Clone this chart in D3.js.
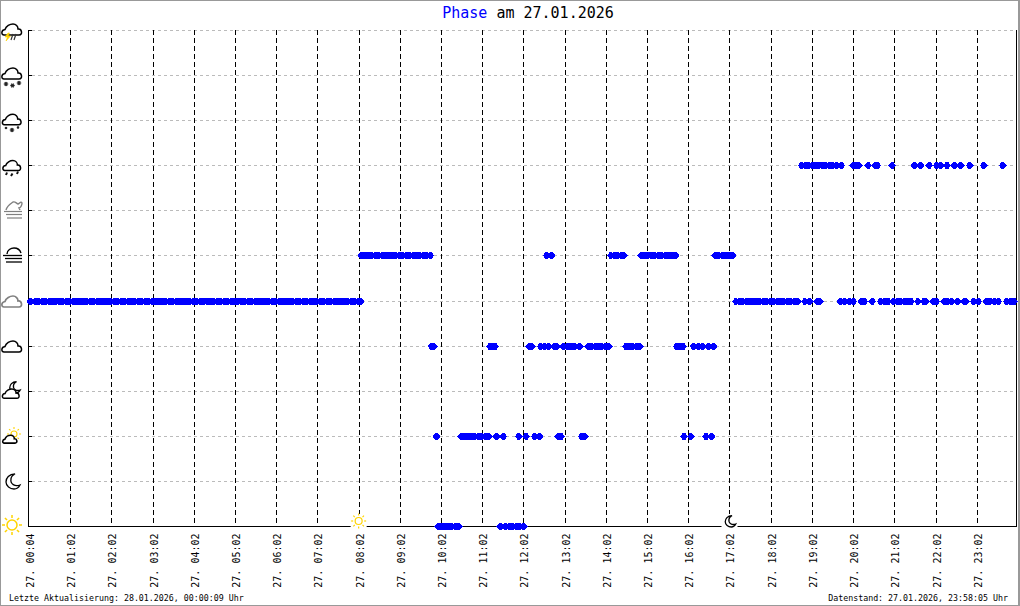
<!DOCTYPE html>
<html>
<head>
<meta charset="utf-8">
<script src="https://cdn.jsdelivr.net/npm/d3@7"></script>
<style>
html, body { margin: 0; padding: 0; background: #fff; }
svg { display: block; }
text { font-family: "DejaVu Sans Mono", monospace; fill: #000; }
</style>
</head>
<body>
<div id="graf"></div>
<script>
// Messwerte: Index = Nummer der 5-Minuten-Messung des Tages
const stundenIndex = [0,12,24,36,48,60,72,84,96,108,120,132,144,156,168,180,192,204,216,228,240,252,264,276]
const stundenLabels = ["27. 00:04","27. 01:02","27. 02:02","27. 03:02","27. 04:02","27. 05:02","27. 06:02","27. 07:02","27. 08:02","27. 09:02","27. 10:02","27. 11:02","27. 12:02","27. 13:02","27. 14:02","27. 15:02","27. 16:02","27. 17:02","27. 18:02","27. 19:02","27. 20:02","27. 21:02","27. 22:02","27. 23:02"]

const phaseSonne = [119.3,120.3,121.3,122.3,123.3,124.3,125.3,137.4,139,140,141,142,143,144.2]
const phaseSonneWolke = [118.8,126,127,128,129,130,131,132,133,134,136.3,138.3,142.8,144.9,147.4,148.8,154.3,155.1,161.1,162,190.9,192.9,197.3,198.9]
const phaseWolke = [117.4,118,134.4,135,135.9,145.8,146.6,149.2,150.3,151.5,153.1,153.8,155.8,157,158,159,160.5,163,164,165,166,167,168,169,174,175,176,177,178,188.8,189.7,190.6,193.7,195,196.3,198,199.5]
const phaseBedeckt = [0.6,2,3,4,5,6,7,8,9,10,11,12,13,14,15,16,17,18,19,20,21,22,23,24,25,26,27,28,29,30,31,32,33,34,35,36,37,38,39,40,41,42,43,44,45,46,47,48,49,50,51,52,53,54,55,56,57,58,59,60,61,62,63,64,65,66,67,68,69,70,71,72,73,74,75,76,77,78,79,80,81,82,83,84,85,86,87,88,89,90,91,92,93,94,95,96,96.7,206,207,208,209,210,211,212,213,214,215,216,217,218,219,220,221,222,223,224,226.1,227.5,229.8,230.4,236.5,237.7,239,240.2,242.6,243.4,245.7,248.2,249.2,250.3,252,253,254,255,256,257,259,260.8,261.2,263.5,264.4,266.7,267.7,268.8,270.6,272.5,273,275.3,276.6,279,280,281.2,282.4,284.9,286,287]
const phaseNebel = [97,98,99,100,101,102,103,104,105,106,107,108,109,110,111,112,113,114,115,116,117,150.9,152.3,169.6,170.6,171.6,172.6,173.4,178.4,179.4,180.4,181.4,182.4,183.4,184.4,185.4,186.4,187.4,188.4,200,201,202,203,204,205]
const phaseRegen = [225.2,226.2,227.2,228.2,229.2,230.2,231.2,232.2,233.2,234.2,235.4,236.7,240.2,241,241.8,244.5,246.7,247.2,251.5,258,259.8,262.3,264.5,265.6,267.5,269.7,271.5,274.1,278.2,283.7]

// Reihe auf der y-Achse: 0 = Sonne ... 11 = Gewitter
const phasen = [
    { stufe: 0, werte: phaseSonne },
    { stufe: 2, werte: phaseSonneWolke },
    { stufe: 4, werte: phaseWolke },
    { stufe: 5, werte: phaseBedeckt },
    { stufe: 6, werte: phaseNebel },
    { stufe: 8, werte: phaseRegen },
]
const stufen = [0,1,2,3,4,5,6,7,8,9,10,11]
const sonnenaufgang = 96
const sonnenuntergang = 204

const anchoTotal = 1020
const altoTotal = 606
const blau = "#0000ff"
const gelb = "#ffd400"
const grau = "#808080"

const svg = d3.select("#graf").append("svg")
    .attr("width", anchoTotal)
    .attr("height", altoTotal)

// Rahmen
svg.append("rect")
    .attr("x", 0.5).attr("y", 0.5)
    .attr("width", 1018).attr("height", 605)
    .attr("fill", "#fff").attr("stroke", "#999")
svg.append("line").attr("x1", 1019.5).attr("x2", 1019.5).attr("y1", 0).attr("y2", 606).attr("stroke", "#999")

// Escaladores
const x = d3.scaleLinear().domain([0, 287]).range([29, 1014.5])
const y = d3.scaleLinear().domain([0, 11]).range([526.5, 30.5])
const xPix = d => Math.round(x(d)) + 0.5
const yPix = d => Math.floor(y(d)) + 0.5

// horizontale Linien
svg.append("g").selectAll("line").data(stufen.slice(1)).join("line")
    .attr("x1", 32).attr("x2", 1016)
    .attr("y1", yPix).attr("y2", yPix)
    .attr("stroke", "#bbb").attr("stroke-dasharray", "3,3")

// Beschriftung
const xAxis = d3.axisBottom(x)
    .tickValues(stundenIndex)
    .tickSize(0)
    .tickPadding(0)
    .tickFormat((d, i) => stundenLabels[i])
const xGroup = svg.append("g").attr("transform", `translate(0,526.5)`).call(xAxis)
xGroup.select(".domain").remove()
xGroup.selectAll("text")
    .attr("transform", "translate(1,7) rotate(-90)")
    .attr("x", 0).attr("y", 0).attr("dy", "0.35em")
    .attr("text-anchor", "end")
    .style("font-size", "10px")
    .style("font-family", '"DejaVu Sans Mono", monospace')

// vertikale Linien
svg.append("g").selectAll("line").data(stundenIndex.slice(1)).join("line")
    .attr("x1", xPix).attr("x2", xPix)
    .attr("y1", 30).attr("y2", 526)
    .attr("stroke", "#000").attr("stroke-dasharray", "5,3")

// Achsen
svg.append("g").selectAll("line").data(stufen.slice(1)).join("line")
    .attr("x1", 28).attr("x2", 32)
    .attr("y1", yPix).attr("y2", yPix)
    .attr("stroke", "#000")
svg.append("line").attr("x1", 28.5).attr("x2", 28.5).attr("y1", 30).attr("y2", 527).attr("stroke", "#000")
svg.append("line").attr("x1", 28).attr("x2", 1016).attr("y1", 526.5).attr("y2", 526.5).attr("stroke", "#000")
svg.append("line").attr("x1", 1016.5).attr("x2", 1016.5).attr("y1", 30).attr("y2", 527).attr("stroke", "#000")

// Rauten (stumpfe Spitzen oben und unten)
const rauteForm = {
    draw(ctx) {
        ctx.moveTo(-3.9, 0)
        ctx.lineTo(-1, -3.7)
        ctx.lineTo(1, -3.7)
        ctx.lineTo(3.9, 0)
        ctx.lineTo(1, 3.7)
        ctx.lineTo(-1, 3.7)
        ctx.closePath()
    }
}
const raute = d3.symbol().type(rauteForm)
phasen.forEach(p => {
    svg.append("g").selectAll("path").data(p.werte).join("path")
        .attr("d", raute)
        .attr("transform", d => `translate(${x(d) - 0.5},${yPix(p.stufe)})`)
        .attr("fill", blau)
        .attr("shape-rendering", "crispEdges")
})

// Wetter-Symbole
const wolkeD = "M-8,5 C-11,5 -11,0 -7,-0.5 C-6,-4 -2,-6 1,-6 C4,-6 6,-3.5 6,-1 C10,-1.5 11,5 7,5 Z"

const wolke = (g, dx, dy, s, farbe, sw = 1.5) => {
    g.append("path").attr("d", wolkeD)
        .attr("transform", `translate(${dx},${dy}) scale(${s})`)
        .attr("fill", "#fff").attr("stroke", farbe).attr("stroke-width", sw / s)
}
const sonne = (g, cx, cy, r, len, farbe, sw) => {
    g.append("circle").attr("cx", cx).attr("cy", cy).attr("r", r)
        .attr("fill", "#fff").attr("stroke", farbe).attr("stroke-width", sw)
    d3.range(8).forEach(k => {
        const a = k * Math.PI / 4
        g.append("line")
            .attr("x1", cx + Math.cos(a) * (r + 2)).attr("y1", cy + Math.sin(a) * (r + 2))
            .attr("x2", cx + Math.cos(a) * (r + 2 + len)).attr("y2", cy + Math.sin(a) * (r + 2 + len))
            .attr("stroke", farbe).attr("stroke-width", sw)
    })
}
const mondD = "M2,-7 C-4,-7 -7,-3 -7,1 C-7,5 -3,8 1,8 C4,8 6,6 7,4 C2,6 -3,3 -2,-2 C-2,-4 0,-6 2,-7 Z"
const mond = (g, cx, cy, s, farbe) => {
    g.append("path").attr("d", mondD)
        .attr("transform", `translate(${cx},${cy}) scale(${s})`)
        .attr("fill", "#fff").attr("stroke", farbe).attr("stroke-width", 1.3 / s)
}
const flocke = (g, cx, cy, r) => {
    [0, 60, 120].forEach(w => {
        g.append("line")
            .attr("x1", cx - r).attr("x2", cx + r).attr("y1", cy).attr("y2", cy)
            .attr("transform", `rotate(${w},${cx},${cy})`)
            .attr("stroke", "#222").attr("stroke-width", 1.3)
    })
}
const balken = (g, dy, x1, x2, farbe, sw) => {
    g.append("line").attr("x1", x1).attr("x2", x2).attr("y1", dy).attr("y2", dy)
        .attr("stroke", farbe).attr("stroke-width", sw)
}

const icons = svg.append("g")

// Gewitter
const i11 = icons.append("g")
wolke(i11, 12, 30, 1, "#000")
i11.append("path").attr("d", "M8,33 L5,37 L7.5,37 L6,41 L10.5,36 L8,36 L9.5,33 Z").attr("fill", gelb).attr("stroke", gelb).attr("stroke-width", 0.6)
i11.append("path").attr("d", "M13,34 L11,40 M16,34 L14,40").attr("stroke", "#333").attr("stroke-width", 1.2)

// starker Schnee
const i10 = icons.append("g")
wolke(i10, 12, 74, 1, "#000")
flocke(i10, 6, 84, 2.2); flocke(i10, 12.5, 85.5, 2.2); flocke(i10, 19, 83, 2.2)

// Schnee
const i9 = icons.append("g")
wolke(i9, 12, 120, 0.95, "#000")
flocke(i9, 6, 128, 1.2); flocke(i9, 12, 130, 2.2); flocke(i9, 18, 127.5, 1.2)

// Regen
const i8 = icons.append("g")
wolke(i8, 12, 166, 0.9, "#000")
i8.append("path").attr("d", "M7,172.5 L6,175 M12.5,173.5 L11,176 M18,171.5 L17,174")
    .attr("stroke", "#111").attr("stroke-width", 2)

// Dunst
const i7 = icons.append("g")
i7.append("path").attr("d", "M6,210 C7,206 10,204 13,202 C15,201 17,204 18,204 C20,203 21,201 22,203 C22,206 20,208 19,208 L20,210")
    .attr("fill", "none").attr("stroke", grau).attr("stroke-width", 1.4)
balken(i7, 211.5, 4, 22, grau, 1.2); balken(i7, 214.5, 6, 22, grau, 1.2); balken(i7, 218, 7, 22, grau, 1.2)

// Nebel
const i6 = icons.append("g")
i6.append("path").attr("d", "M7,254 C7,250 11,248 14,248 C17,248 20,250 21,253")
    .attr("fill", "none").attr("stroke", "#000").attr("stroke-width", 1.4)
balken(i6, 255.5, 3, 22, "#000", 1.3); balken(i6, 258.5, 5, 22, "#000", 1.3); balken(i6, 262, 6, 22, "#000", 1.3)

// bedeckt
wolke(icons.append("g"), 12, 302, 1, grau, 1.7)

// bewoelkt
wolke(icons.append("g"), 12, 347, 1, "#000", 1.5)

// Nacht, Wolke
const i3 = icons.append("g")
mond(i3, 15, 387, 0.75, "#000")
wolke(i3, 11, 394, 0.85, "#000", 1.5)

// Sonne, Wolke
const i2 = icons.append("g")
sonne(i2, 14, 434, 3, 2, gelb, 1.1)
wolke(i2, 10, 439.5, 0.72, "#000", 1.6)

// Mond
mond(icons.append("g"), 13, 481, 1, "#000")

// Sonne
sonne(icons.append("g"), 12, 525, 5, 3, gelb, 1.5)

// Auf- und Untergang
const marken = svg.append("g")
marken.append("rect").attr("x", x(sonnenaufgang) - 8).attr("y", 514).attr("width", 16).attr("height", 14).attr("fill", "#fff")
sonne(marken, x(sonnenaufgang), 521, 3.5, 2, gelb, 1.2)
marken.append("rect").attr("x", x(sonnenuntergang) - 8).attr("y", 514).attr("width", 16).attr("height", 14).attr("fill", "#fff")
mond(marken, x(sonnenuntergang) + 1, 521, 0.75, "#000")

// Titulo
const titulo = svg.append("text")
    .attr("x", 528).attr("y", 18)
    .attr("text-anchor", "middle")
    .style("font-size", "15px")
titulo.append("tspan").text("Phase").style("fill", blau)
titulo.append("tspan").text(" am 27.01.2026")

// Fusszeile
svg.append("text").attr("x", 9).attr("y", 601).style("font-size", "8.3px")
    .text("Letzte Aktualisierung: 28.01.2026, 00:00:09 Uhr")
svg.append("text").attr("x", 1008).attr("y", 601).attr("text-anchor", "end").style("font-size", "8.3px")
    .text("Datenstand: 27.01.2026, 23:58:05 Uhr")
</script>
</body>
</html>
